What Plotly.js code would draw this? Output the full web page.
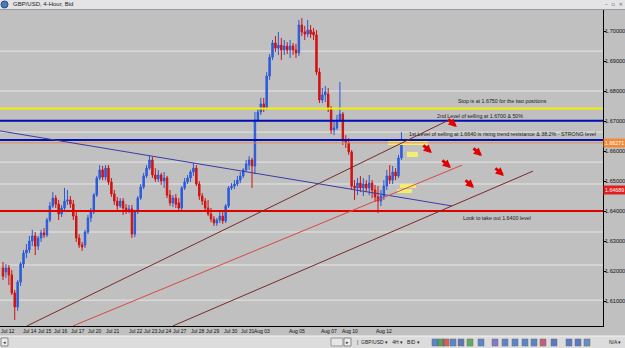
<!DOCTYPE html>
<html><head><meta charset="utf-8">
<script src="https://cdn.plot.ly/plotly-3.0.1.min.js"></script>
<style>html,body{margin:0;padding:0;background:#c0c0c0;}#chart{width:625px;height:348px;}</style>
</head><body><div id="chart"></div>
<script>
// ---- data (GBP/USD 4-hour bars) ----
const barOpen = [1.6210,1.6197,1.6210,1.6187,1.6127,1.6080,1.6163,1.6223,1.6260,1.6270,
1.6300,1.6317,1.6283,1.6310,1.6327,1.6320,1.6370,1.6417,1.6443,1.6423,
1.6390,1.6410,1.6433,1.6437,1.6423,1.6383,1.6310,1.6287,1.6287,1.6330,
1.6377,1.6397,1.6453,1.6510,1.6537,1.6513,1.6543,1.6497,1.6457,1.6433,
1.6417,1.6433,1.6410,1.6400,1.6407,1.6323,1.6397,1.6443,1.6480,1.6517,
1.6543,1.6570,1.6520,1.6507,1.6520,1.6500,1.6510,1.6453,1.6427,1.6443,
1.6427,1.6410,1.6477,1.6497,1.6510,1.6530,1.6543,1.6490,1.6450,1.6433,
1.6410,1.6390,1.6373,1.6360,1.6370,1.6383,1.6367,1.6417,1.6477,1.6483,
1.6490,1.6503,1.6517,1.6537,1.6553,1.6570,1.6550,1.6703,1.6730,1.6757,
1.6743,1.6850,1.6913,1.6960,1.6943,1.6953,1.6937,1.6950,1.6937,1.6950,
1.6937,1.6927,1.7020,1.6997,1.6990,1.7003,1.6997,1.6987,1.6863,1.6770,
1.6787,1.6790,1.6743,1.6670,1.6677,1.6703,1.6723,1.6637,1.6627,1.6597,
1.6483,1.6477,1.6493,1.6477,1.6490,1.6477,1.6493,1.6470,1.6447,1.6433,
1.6450,1.6483,1.6517,1.6503,1.6530,1.6517,1.6577];
const barHigh = [1.6230,1.6223,1.6220,1.6203,1.6137,1.6170,1.6230,1.6270,1.6290,1.6317,
1.6337,1.6330,1.6317,1.6337,1.6343,1.6377,1.6430,1.6463,1.6453,1.6437,
1.6420,1.6477,1.6470,1.6450,1.6437,1.6397,1.6323,1.6297,1.6337,1.6387,
1.6410,1.6460,1.6517,1.6553,1.6550,1.6553,1.6553,1.6510,1.6470,1.6447,
1.6443,1.6443,1.6423,1.6420,1.6420,1.6403,1.6450,1.6490,1.6527,1.6553,
1.6583,1.6580,1.6543,1.6537,1.6527,1.6530,1.6517,1.6470,1.6453,1.6457,
1.6443,1.6483,1.6510,1.6520,1.6537,1.6560,1.6553,1.6500,1.6460,1.6443,
1.6437,1.6410,1.6383,1.6377,1.6397,1.6397,1.6423,1.6483,1.6493,1.6503,
1.6517,1.6530,1.6543,1.6570,1.6583,1.6577,1.6730,1.6743,1.6777,1.6777,
1.6863,1.6923,1.6970,1.6983,1.6997,1.6977,1.6970,1.6963,1.6970,1.6960,
1.6957,1.7037,1.7043,1.7017,1.7037,1.7020,1.7010,1.7003,1.6877,1.6810,
1.6817,1.6810,1.6750,1.6703,1.6720,1.6830,1.6730,1.6653,1.6643,1.6603,
1.6503,1.6510,1.6517,1.6510,1.6503,1.6520,1.6503,1.6487,1.6483,1.6470,
1.6503,1.6537,1.6553,1.6550,1.6543,1.6587,1.6663];
const barLow = [1.6170,1.6177,1.6153,1.6120,1.6037,1.6067,1.6150,1.6210,1.6243,1.6260,
1.6283,1.6253,1.6270,1.6297,1.6310,1.6313,1.6363,1.6410,1.6410,1.6370,
1.6380,1.6403,1.6420,1.6410,1.6370,1.6297,1.6277,1.6267,1.6277,1.6323,
1.6363,1.6390,1.6447,1.6503,1.6503,1.6503,1.6487,1.6447,1.6420,1.6403,
1.6410,1.6387,1.6390,1.6393,1.6310,1.6313,1.6390,1.6437,1.6473,1.6510,
1.6537,1.6510,1.6497,1.6497,1.6487,1.6477,1.6443,1.6417,1.6413,1.6410,
1.6397,1.6403,1.6470,1.6490,1.6497,1.6517,1.6483,1.6437,1.6420,1.6400,
1.6383,1.6363,1.6350,1.6350,1.6360,1.6357,1.6360,1.6410,1.6470,1.6473,
1.6483,1.6493,1.6510,1.6530,1.6537,1.6477,1.6523,1.6697,1.6720,1.6730,
1.6737,1.6837,1.6903,1.6930,1.6920,1.6903,1.6920,1.6923,1.6910,1.6920,
1.6910,1.6917,1.6983,1.6970,1.6980,1.6977,1.6970,1.6853,1.6760,1.6760,
1.6763,1.6730,1.6657,1.6653,1.6670,1.6697,1.6620,1.6610,1.6587,1.6470,
1.6437,1.6453,1.6463,1.6450,1.6463,1.6453,1.6443,1.6430,1.6393,1.6417,
1.6437,1.6470,1.6490,1.6490,1.6503,1.6510,1.6570];
const barClose = [1.6183,1.6210,1.6187,1.6127,1.6080,1.6163,1.6223,1.6260,1.6270,1.6300,
1.6317,1.6283,1.6310,1.6327,1.6320,1.6370,1.6417,1.6443,1.6423,1.6390,
1.6410,1.6433,1.6437,1.6423,1.6383,1.6310,1.6287,1.6280,1.6330,1.6377,
1.6397,1.6453,1.6510,1.6537,1.6513,1.6543,1.6497,1.6457,1.6433,1.6417,
1.6433,1.6410,1.6400,1.6407,1.6323,1.6397,1.6443,1.6480,1.6517,1.6543,
1.6570,1.6520,1.6507,1.6520,1.6500,1.6510,1.6453,1.6427,1.6443,1.6423,
1.6410,1.6477,1.6497,1.6510,1.6530,1.6543,1.6490,1.6450,1.6433,1.6410,
1.6390,1.6373,1.6360,1.6370,1.6383,1.6367,1.6417,1.6477,1.6483,1.6490,
1.6503,1.6517,1.6537,1.6557,1.6570,1.6550,1.6703,1.6730,1.6757,1.6743,
1.6850,1.6913,1.6960,1.6943,1.6953,1.6937,1.6950,1.6937,1.6950,1.6937,
1.6927,1.7020,1.6997,1.6990,1.7003,1.6990,1.6987,1.6863,1.6770,1.6787,
1.6797,1.6743,1.6670,1.6677,1.6703,1.6723,1.6637,1.6627,1.6597,1.6483,
1.6477,1.6493,1.6477,1.6490,1.6477,1.6493,1.6470,1.6447,1.6433,1.6450,
1.6483,1.6517,1.6503,1.6530,1.6517,1.6577,1.6627];

// date labels (bar index where each label starts)
const dateLabels = ['Jul 12','Jul 14','Jul 15','Jul 16','Jul 17','Jul 20','Jul 21','Jul 22','Jul 23','Jul 24',
                    'Jul 27','Jul 28','Jul 29','Jul 30','Jul 31','Aug 03','Aug 05','Aug 07','Aug 10','Aug 12'];
const dateLabelBar = [-1.0,6.5,11.6,17.1,22.9,28.7,34.8,42.7,47.8,52.6,57.7,63.8,68.9,75.1,80.9,85.3,97.3,108.2,115.4,127.0];
const priceTicks = [1.61,1.62,1.63,1.64,1.65,1.66,1.67,1.68,1.69,1.70];
const priceTickText = ['1.61000','1.62000','1.63000','1.64000','1.65000','1.66000','1.67000','1.68000','1.69000','1.70000'];

// horizontal levels
const fiboLevels = [1.6933,1.6800,1.6663,1.6563,1.6490,1.6330,1.6220,1.6103];
const stopLevel = 1.6742;
const sell2Level = 1.6701;
const sell1Level = 1.6637;
const targetLevel = 1.6400;
const bidPrice = 1.66271;
const askTag = 1.64689;

// trend lines: [bar0, price0, bar1, price1]
const triangleLine = [-1.02, 1.6667, 153.2, 1.6417];
const channelUpper = [8.2, 1.6017, 151.5, 1.6700];
const channelMid   = [23.9, 1.6017, 156.7, 1.6553];
const channelLower = [58.0, 1.6017, 180.9, 1.6533];

// yellow highlight boxes: [bar0, bar1, priceLow, priceHigh]
const highlightBoxes = [[131.4,145.1,1.6620,1.6640],[137.9,141.6,1.6580,1.6597],[135.5,141.0,1.6477,1.6490],[134.5,139.6,1.6460,1.6473]];
// red arrow tips: [bar, price]
const arrowTips = [[154.9,1.6680],[146.4,1.6593],[163.5,1.6583],[152.9,1.6543],[171.0,1.6517],[160.8,1.6477]];

// ---- layout helpers (pixel -> paper) ----
const PW = 603, PT = 10, PB = 326;
const pxX = x => x / PW;
const pxY = y => (PB - y) / (PB - PT);

const idx = barOpen.map((_, i) => i);

const trace = {
  type: 'candlestick', x: idx, open: barOpen, high: barHigh, low: barLow, close: barClose,
  increasing: {line: {color: '#2a58d8', width: 1}, fillcolor: '#2f62e8'},
  decreasing: {line: {color: '#d01010', width: 1}, fillcolor: '#dd1212'},
  whiskerwidth: 0, hoverinfo: 'skip'
};

const shapes = [];
// window title bar
shapes.push({type:'rect', xref:'paper', yref:'paper', x0:pxX(-2), x1:pxX(627), y0:pxY(10), y1:pxY(-2), fillcolor:'#e4e4e6', line:{width:0}, layer:'below'});
shapes.push({type:'line', xref:'paper', yref:'paper', x0:pxX(0), x1:pxX(625), y0:pxY(9.5), y1:pxY(9.5), line:{color:'#9a9a9a', width:1}});
shapes.push({type:'circle', xref:'paper', yref:'paper', x0:pxX(1), x1:pxX(8), y0:pxY(8), y1:pxY(1), fillcolor:'#4a78b8', line:{color:'#2a4a80', width:1}});
// bottom toolbar
shapes.push({type:'rect', xref:'paper', yref:'paper', x0:pxX(-2), x1:pxX(627), y0:pxY(350), y1:pxY(336), fillcolor:'#dcdcdc', line:{width:0}});
shapes.push({type:'line', xref:'paper', yref:'paper', x0:pxX(0), x1:pxX(625), y0:pxY(336), y1:pxY(336), line:{color:'#f4f4f4', width:1}});
shapes.push({type:'rect', xref:'paper', yref:'paper', x0:pxX(1), x1:pxX(8), y0:pxY(346), y1:pxY(338), fillcolor:'#ececec', line:{color:'#888', width:1}});
shapes.push({type:'rect', xref:'paper', yref:'paper', x0:pxX(331), x1:pxX(343), y0:pxY(346), y1:pxY(338), fillcolor:'#e6e6e6', line:{color:'#999', width:1}});
shapes.push({type:'rect', xref:'paper', yref:'paper', x0:pxX(344), x1:pxX(351), y0:pxY(346), y1:pxY(338), fillcolor:'#ececec', line:{color:'#888', width:1}});
const iconColors = ['#3a70c8','#2a9a3a','#d04040','#3a70c8','#3a60b0','#40a040','#3a70c8','#7060c0','#3a70c8','#3a70c8','#3a70c8','#3a70c8','#c04060','#3a60c0','#3a60c0','#3a60c0','#4a7ac0'];
const iconX = [432,438,443,450,458,467,478,492,502,512,522,531,540,551,566,575,584,597];
iconColors.forEach((c, k) => {
  const x = iconX[k];
  shapes.push({type:'rect', xref:'paper', yref:'paper', x0:pxX(x), x1:pxX(x+6), y0:pxY(346), y1:pxY(339), fillcolor:c, opacity:0.8, line:{color:'#555', width:0.5}});
});
// fibo (white) lines
fiboLevels.forEach(p => shapes.push({type:'line', xref:'paper', yref:'y', x0:0, x1:1, y0:p, y1:p, line:{color:'#e6e6e6', width:1}, layer:'below'}));
// yellow highlight boxes
highlightBoxes.forEach(b => shapes.push({type:'rect', xref:'x', yref:'y', x0:b[0], x1:b[1], y0:b[2], y1:b[3], fillcolor:'#f4ee70', line:{width:0}}));
// bid line
shapes.push({type:'line', xref:'paper', yref:'y', x0:0, x1:1, y0:bidPrice, y1:bidPrice, line:{color:'#e08a50', width:1}});
// key levels
shapes.push({type:'line', xref:'paper', yref:'y', x0:0, x1:1, y0:stopLevel, y1:stopLevel, line:{color:'#f2f200', width:2}});
shapes.push({type:'line', xref:'paper', yref:'y', x0:0, x1:1, y0:sell2Level, y1:sell2Level, line:{color:'#0010b0', width:2}});
shapes.push({type:'line', xref:'paper', yref:'y', x0:0, x1:1, y0:sell1Level, y1:sell1Level, line:{color:'#0010b0', width:2}});
shapes.push({type:'line', xref:'paper', yref:'y', x0:0, x1:1, y0:targetLevel, y1:targetLevel, line:{color:'#e00000', width:2}});
// trend lines
shapes.push({type:'line', xref:'x', yref:'y', x0:triangleLine[0], y0:triangleLine[1], x1:triangleLine[2], y1:triangleLine[3], line:{color:'#3a3aa8', width:1}});
shapes.push({type:'line', xref:'x', yref:'y', x0:channelUpper[0], y0:channelUpper[1], x1:channelUpper[2], y1:channelUpper[3], line:{color:'#7a2a2a', width:1}});
shapes.push({type:'line', xref:'x', yref:'y', x0:channelMid[0], y0:channelMid[1], x1:channelMid[2], y1:channelMid[3], line:{color:'#d84848', width:1}});
shapes.push({type:'line', xref:'x', yref:'y', x0:channelLower[0], y0:channelLower[1], x1:channelLower[2], y1:channelLower[3], line:{color:'#7a2a2a', width:1}});

const annFont = {family:'Liberation Sans, Arial, sans-serif', size:5.3, color:'#1a1a1a'};
const annotations = [];
const txt = (x, y, t, f, anchor) => annotations.push({xref:'paper', yref:'paper', x:pxX(x), y:pxY(y), text:t, showarrow:false, xanchor:anchor||'center', yanchor:'middle', font:f||annFont});
txt(502, 101, 'Stop is at 1.6750 for the two positions');
txt(480, 116, '2nd Level of selling at 1.6700 &amp; 50%');
txt(502, 134, '1st Level of selling at 1.6640 is rising trend resistance &amp; 38.2% - STRONG level');
txt(497, 218, 'Look to take out 1.6400 level');
txt(11, 4.5, 'GBP/USD, 4-Hour, Bid', {family:'Liberation Sans, Arial, sans-serif', size:6, color:'#202020'}, 'left');
txt(603, 4.5, '–  ▫  ×', {family:'DejaVu Sans', size:5.5, color:'#555'}, 'left');
txt(4.5, 342, '◂', {family:'DejaVu Sans', size:5, color:'#333'});
txt(347.5, 342, '▸', {family:'DejaVu Sans', size:5, color:'#333'});
txt(355, 342, '|  GBP/USD ▾   4H ▾   BID ▾', {family:'Liberation Sans, Arial, sans-serif', size:5, color:'#222'}, 'left');
txt(607, 342, 'N/A ▾', {family:'Liberation Sans, Arial, sans-serif', size:5, color:'#222'}, 'left');

// date labels on the time axis
const dateFont = {family:'Liberation Sans, Arial, sans-serif', size:5.0, color:'#111'};
dateLabels.forEach((t, k) => annotations.push({xref:'x', yref:'paper', x:dateLabelBar[k], y:pxY(331), text:t, showarrow:false,
  xanchor:'left', yanchor:'middle', font:dateFont, borderpad:0}));
// price labels on the right scale
const priceFont = {family:'Liberation Sans, Arial, sans-serif', size:5.6, color:'#111'};
priceTicks.forEach((p, k) => annotations.push({xref:'paper', yref:'y', x:pxX(604), y:p, text:priceTickText[k], showarrow:false,
  xanchor:'left', yanchor:'middle', font:priceFont, borderpad:0}));

arrowTips.forEach(a => annotations.push({xref:'x', yref:'y', x:a[0], y:a[1], ax:-10, ay:-9, text:'', showarrow:true,
  arrowhead:2, arrowsize:0.55, arrowwidth:3, arrowcolor:'#e00000'}));

annotations.push({xref:'paper', yref:'y', x:1, y:bidPrice, xanchor:'left', xshift:0, text:'1.66271', showarrow:false,
  bgcolor:'#f08a3a', borderpad:1, font:{family:'Liberation Sans, Arial', size:5.3, color:'#ffffff'}});
annotations.push({xref:'paper', yref:'y', x:1, y:askTag, xanchor:'left', xshift:0, text:'1.64689', showarrow:false,
  bgcolor:'#e02020', borderpad:1, font:{family:'Liberation Sans, Arial', size:5.3, color:'#ffffff'}});

const layout = {
  width: 625, height: 348,
  margin: {l:0, r:22, t:10, b:22, pad:0},
  paper_bgcolor:'#c0c0c0', plot_bgcolor:'#c0c0c0',
  showlegend:false,
  xaxis: {range:[-1.024, 204.8], showgrid:false, zeroline:false, showline:true, linecolor:'#000', linewidth:1,
          showticklabels:false, ticks:'', rangeslider:{visible:false}, fixedrange:true},
  yaxis: {side:'right', range:[1.60167, 1.70700], showgrid:false, zeroline:false, showline:true, linecolor:'#000', linewidth:1,
          tickmode:'array', tickvals:priceTicks, ticks:'outside', ticklen:2, tickcolor:'#000',
          showticklabels:false, fixedrange:true},
  shapes: shapes,
  annotations: annotations
};

Plotly.newPlot('chart', [trace], layout, {staticPlot:true, displayModeBar:false});
</script>
</body></html>
